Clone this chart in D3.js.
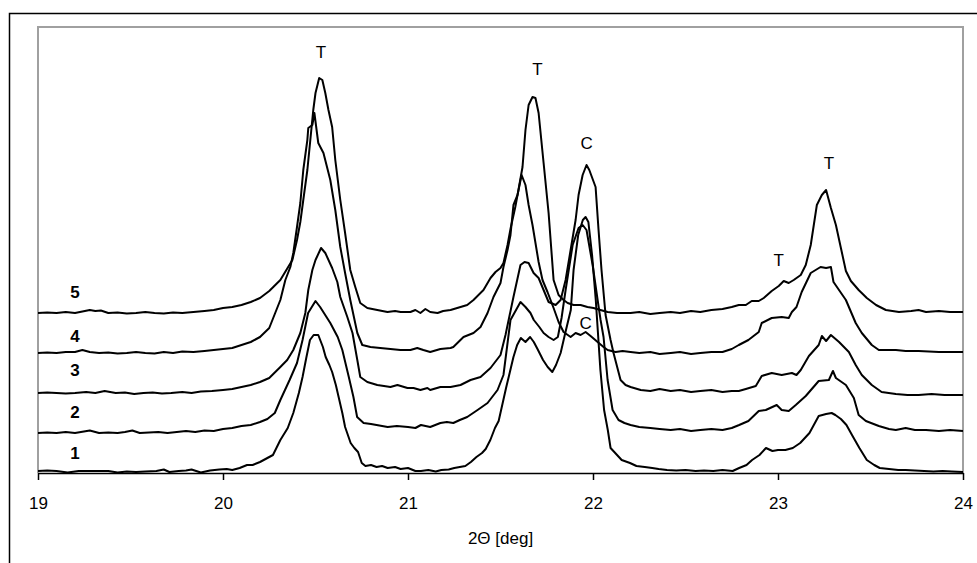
<!DOCTYPE html>
<html>
<head>
<meta charset="utf-8">
<script src="https://cdn.jsdelivr.net/npm/d3@7"></script>
<style>
  body { margin: 0; background: #fff; }
  svg text { font-family: "Liberation Sans", Arial, sans-serif; }
</style>
</head>
<body>
<svg id="chart" width="977" height="563"></svg>
<script>
'use strict';

// 2theta [deg], intensity (arbitrary units, patterns already shifted)
const pattern1 = [[19.00,2],[19.05,2.5],[19.10,2],[19.16,0.5],[19.22,2],[19.30,2],[19.38,2],[19.43,0.5],[19.48,1.5],[19.53,1],[19.58,1.5],[19.64,2],[19.68,3.5],[19.71,1],[19.76,2],[19.80,2.5],[19.83,3.5],[19.88,0.5],[19.93,2.5],[19.98,3.5],[20.02,4],[20.05,3],[20.09,5],[20.13,8],[20.16,8],[20.20,11],[20.24,15],[20.27,18],[20.31,33],[20.35,45],[20.38,60],[20.41,80],[20.43,96],[20.45,115],[20.47,133],[20.49,138],[20.515,138],[20.54,126],[20.555,116],[20.575,108],[20.59,101],[20.61,88],[20.625,76],[20.645,60],[20.66,46],[20.69,30],[20.71,25],[20.73,21],[20.75,10],[20.77,7],[20.80,8],[20.83,6],[20.86,7],[20.89,5],[20.93,6],[20.96,4],[21.00,5],[21.04,2],[21.07,2],[21.11,3],[21.15,1.5],[21.18,3],[21.22,3.5],[21.25,5],[21.28,6],[21.31,7],[21.34,11],[21.37,16],[21.40,20],[21.42,24],[21.445,33],[21.47,45],[21.49,52],[21.53,85],[21.57,116],[21.59,128],[21.61,135],[21.635,131],[21.66,136],[21.68,131],[21.70,124],[21.73,113],[21.755,106],[21.78,101],[21.80,108],[21.825,120],[21.85,140],[21.88,163],[21.895,203],[21.92,238],[21.945,253],[21.96,256],[21.975,251],[21.995,218],[22.015,173],[22.04,103],[22.06,63],[22.08,43],[22.095,25],[22.12,20],[22.155,13],[22.20,10],[22.235,7],[22.28,6],[22.32,5],[22.355,4],[22.40,3],[22.45,2.5],[22.50,3],[22.555,2],[22.60,2.5],[22.65,2],[22.70,3],[22.755,2],[22.79,5],[22.83,8],[22.86,13],[22.90,18],[22.935,25],[22.97,22],[23.00,23],[23.04,23],[23.08,25],[23.12,30],[23.17,40],[23.22,57],[23.26,59],[23.29,60],[23.31,58],[23.34,54],[23.37,48],[23.40,38],[23.44,25],[23.48,13],[23.52,8],[23.55,5],[23.60,4],[23.65,3],[23.69,3],[23.74,2.5],[23.79,2],[23.84,1.5],[23.89,2],[23.94,1.5],[24.00,1]];

const pattern2 = [[19.00,40],[19.05,40.5],[19.10,40],[19.15,41],[19.20,40],[19.28,42.5],[19.33,40],[19.38,40.5],[19.43,40],[19.47,41],[19.51,42.5],[19.55,40],[19.60,40.5],[19.65,41],[19.70,40],[19.75,41],[19.80,42],[19.85,41],[19.90,42.5],[19.95,42],[20.00,44],[20.05,45],[20.10,47],[20.15,48],[20.20,51],[20.24,54],[20.28,60],[20.31,73],[20.36,93],[20.40,110],[20.43,133],[20.46,160],[20.50,172],[20.525,166],[20.58,150],[20.62,136],[20.645,123],[20.68,96],[20.705,76],[20.725,56],[20.76,50],[20.80,49],[20.83,48],[20.86,47],[20.89,46],[20.94,47],[21.00,46],[21.04,45],[21.07,48],[21.12,46],[21.175,50],[21.21,51],[21.245,50],[21.28,53],[21.32,56],[21.376,63],[21.43,70],[21.484,83],[21.516,98],[21.554,153],[21.608,171],[21.635,166],[21.662,160],[21.68,153],[21.71,146],[21.733,140],[21.76,136],[21.787,133],[21.81,136],[21.83,155],[21.852,183],[21.89,228],[21.922,245],[21.944,248],[21.965,243],[21.998,208],[22.025,173],[22.041,153],[22.057,136],[22.079,93],[22.106,63],[22.138,53],[22.17,50],[22.203,48],[22.25,46],[22.31,45],[22.36,44],[22.42,43],[22.47,44],[22.53,42],[22.58,43],[22.64,44],[22.70,43],[22.75,45],[22.79,48],[22.84,52],[22.896,62],[22.934,63],[22.993,68],[23.02,63],[23.058,62],[23.096,68],[23.15,77],[23.22,92],[23.275,93],[23.297,102],[23.313,95],[23.367,88],[23.41,75],[23.436,58],[23.475,52],[23.545,47],[23.60,44],[23.637,43],[23.69,45],[23.74,43],[23.80,43],[23.87,42],[23.93,43],[24.00,42]];

const pattern3 = [[19.00,80],[19.05,80.5],[19.10,80],[19.15,79.5],[19.20,80],[19.26,81],[19.31,80],[19.36,82],[19.42,80],[19.47,80.5],[19.52,79],[19.57,80],[19.62,80.5],[19.67,79.5],[19.72,80],[19.78,81],[19.83,80],[19.88,81.5],[19.94,82],[20.00,83],[20.05,84],[20.10,86],[20.15,88],[20.20,91],[20.25,95],[20.31,106],[20.347,113],[20.38,123],[20.418,140],[20.445,160],[20.461,183],[20.483,203],[20.50,213],[20.53,225],[20.553,220],[20.59,205],[20.618,191],[20.634,176],[20.672,156],[20.70,140],[20.726,113],[20.742,96],[20.78,91],[20.834,88],[20.87,87],[20.905,86],[20.943,88],[20.997,85],[21.03,85],[21.067,83],[21.105,85],[21.12,83],[21.175,86],[21.23,86],[21.284,88],[21.338,93],[21.392,96],[21.446,105],[21.50,118],[21.527,138],[21.57,176],[21.608,208],[21.63,211],[21.652,210],[21.679,200],[21.695,197],[21.706,195],[21.733,183],[21.76,171],[21.798,168],[21.825,173],[21.852,193],[21.879,223],[21.906,253],[21.922,278],[21.944,298],[21.965,308],[21.98,303],[22.014,286],[22.03,243],[22.046,203],[22.068,158],[22.095,133],[22.111,120],[22.149,93],[22.176,88],[22.203,86],[22.258,83],[22.31,82],[22.36,84],[22.42,82],[22.47,83],[22.53,81],[22.58,82],[22.64,83],[22.70,81],[22.75,82],[22.788,82],[22.826,84],[22.88,87],[22.912,97],[22.966,100],[23.02,98],[23.075,100],[23.10,98],[23.123,103],[23.167,117],[23.22,128],[23.237,137],[23.26,132],[23.286,138],[23.33,131],[23.383,121],[23.42,108],[23.453,98],[23.507,88],[23.56,81],[23.637,79],[23.70,78],[23.76,78],[23.83,79],[23.90,78],[24.00,78]];

const pattern4 = [[19.00,120],[19.05,120.5],[19.10,120],[19.15,121],[19.20,121],[19.24,123],[19.28,121],[19.33,120],[19.38,120.5],[19.43,119.5],[19.48,120],[19.53,121],[19.58,120],[19.63,119.5],[19.68,121],[19.73,120],[19.78,121.5],[19.84,121],[19.90,122],[19.95,123],[20.00,124],[20.05,125],[20.10,128],[20.15,131],[20.20,136],[20.25,145],[20.31,173],[20.337,193],[20.364,206],[20.38,220],[20.40,246],[20.418,270],[20.434,303],[20.456,333],[20.461,345],[20.483,348],[20.494,360],[20.515,330],[20.543,320],[20.58,293],[20.607,263],[20.634,226],[20.66,200],[20.688,173],[20.726,140],[20.753,128],[20.797,126],[20.85,125],[20.905,124],[20.959,123],[21.013,123],[21.05,125],[21.083,123],[21.12,121],[21.175,124],[21.23,125],[21.245,126],[21.267,130],[21.30,136],[21.354,140],[21.392,146],[21.43,160],[21.462,176],[21.50,190],[21.516,206],[21.538,223],[21.554,238],[21.57,268],[21.592,278],[21.614,298],[21.635,288],[21.652,268],[21.673,248],[21.706,211],[21.727,193],[21.754,181],[21.787,165],[21.814,151],[21.841,141],[21.879,136],[21.906,140],[21.933,138],[21.96,141],[21.987,137],[22.025,131],[22.057,126],[22.079,123],[22.122,121],[22.16,122],[22.203,121],[22.25,120],[22.31,121],[22.36,119],[22.42,120],[22.47,121],[22.53,119],[22.58,120],[22.64,121],[22.70,121],[22.75,124],[22.788,128],[22.84,133],[22.896,141],[22.912,150],[22.966,155],[23.02,156],[23.058,155],[23.075,161],[23.10,166],[23.128,181],[23.177,200],[23.23,206],[23.26,205],[23.286,206],[23.30,191],[23.367,173],[23.42,150],[23.453,140],[23.507,128],[23.545,123],[23.637,123],[23.69,122],[23.76,122],[23.87,121],[23.978,121],[24.00,121]];

const pattern5 = [[19.00,160],[19.05,160.5],[19.10,160],[19.15,161],[19.20,160],[19.24,161.5],[19.28,163],[19.31,162],[19.34,162.5],[19.38,160],[19.43,160.5],[19.48,159.5],[19.53,160],[19.58,161],[19.63,160],[19.68,159.5],[19.73,160.5],[19.78,160],[19.84,161],[19.90,162],[19.95,163],[20.00,165],[20.05,166],[20.10,168],[20.15,171],[20.20,175],[20.25,182],[20.31,193],[20.375,213],[20.40,233],[20.418,251],[20.434,273],[20.456,303],[20.472,333],[20.488,363],[20.50,380],[20.52,395],[20.537,393],[20.553,380],[20.57,363],[20.59,346],[20.607,313],[20.634,273],[20.66,240],[20.688,203],[20.715,186],[20.742,170],[20.78,165],[20.834,163],[20.889,161],[20.93,162],[20.96,161],[21.013,161],[21.04,163],[21.067,160],[21.094,164],[21.12,161],[21.16,160],[21.19,162],[21.23,163],[21.284,166],[21.32,168],[21.354,173],[21.408,183],[21.446,195],[21.473,201],[21.50,205],[21.516,210],[21.538,228],[21.555,245],[21.58,266],[21.597,283],[21.619,306],[21.635,343],[21.652,368],[21.673,376],[21.689,375],[21.706,360],[21.733,310],[21.76,260],[21.787,193],[21.814,178],[21.841,173],[21.863,170],[21.895,168],[21.933,168],[21.97,166],[22.003,165],[22.04,163],[22.079,161],[22.13,160],[22.203,160],[22.25,161],[22.31,159],[22.36,160],[22.42,161],[22.47,160],[22.53,162],[22.58,161],[22.64,163],[22.70,164],[22.75,166],[22.788,168],[22.826,168],[22.858,172],[22.896,172],[22.923,175],[22.966,182],[23.004,187],[23.031,192],[23.058,190],[23.085,193],[23.123,198],[23.15,208],[23.177,228],[23.21,268],[23.237,278],[23.26,283],[23.286,265],[23.313,248],[23.34,225],[23.367,202],[23.394,192],[23.436,183],[23.48,175],[23.53,168],[23.583,163],[23.654,161],[23.72,162],[23.76,163],[23.80,161],[23.87,162],[23.93,161],[24.00,161]];

const patterns = [pattern1, pattern2, pattern3, pattern4, pattern5];
const patternNames = ["1", "2", "3", "4", "5"];
const patternNameAt = [[19.20, 20], [19.20, 61], [19.20, 103], [19.20, 137], [19.20, 181]];

const peakNames = ["T", "T", "C", "C", "T", "T"];
const peakNameAt = [[20.53, 421], [21.70, 404], [21.965, 330], [21.96, 150], [23.004, 213], [23.275, 310]];

const xTicks = [19, 20, 21, 22, 23, 24];
const xTitle = "2\u0398 [deg]";

const svg = d3.select("#chart");
const margin = { top: 27, right: 14, bottom: 90, left: 38 };
const width = 977, height = 563;

const x = d3.scaleLinear().domain([19, 24]).range([margin.left, width - margin.right]);
const y = d3.scaleLinear().domain([0, 446]).range([height - margin.bottom, margin.top]);

// outer chart frame (runs off the page right and bottom)
svg.append("rect")
  .attr("x", 9.5).attr("y", 13.5)
  .attr("width", 1000).attr("height", 600)
  .attr("fill", "none").attr("stroke", "#000").attr("stroke-width", 1.5);

// plot area border, grey on left, top, right
svg.append("path")
  .attr("d", `M${x(19)},${y(0)}V${y(446)}H${x(24)}V${y(0)}`)
  .attr("fill", "none").attr("stroke", "#a0a0a0").attr("stroke-width", 2);

const line = d3.line()
  .x(d => x(d[0]))
  .y(d => y(d[1]));

svg.append("g")
  .selectAll("path")
  .data(patterns)
  .join("path")
  .attr("d", line)
  .attr("fill", "none")
  .attr("stroke", "#000")
  .attr("stroke-width", 2)
  .attr("stroke-linejoin", "round");

// x axis
const xAxis = d3.axisBottom(x)
  .tickValues(xTicks)
  .tickFormat(d3.format("d"))
  .tickSize(7)
  .tickPadding(17)
  .tickSizeOuter(0);
const gx = svg.append("g")
  .attr("transform", `translate(0,${y(0)})`)
  .call(xAxis);
gx.select(".domain").attr("stroke", "#000").attr("stroke-width", 1.5);
gx.selectAll(".tick line").attr("stroke", "#000").attr("stroke-width", 1.5);
gx.selectAll(".tick text")
  .attr("fill", "#000")
  .style("font-size", "17px")
  .style("font-family", "'Liberation Sans', Arial, sans-serif");

svg.append("text")
  .attr("x", (x(19) + x(24)) / 2)
  .attr("y", 544)
  .attr("text-anchor", "middle")
  .style("font-size", "17px")
  .text(xTitle);

// pattern numbers
svg.append("g")
  .selectAll("text")
  .data(patternNames)
  .join("text")
  .attr("x", (d, i) => x(patternNameAt[i][0]))
  .attr("y", (d, i) => y(patternNameAt[i][1]))
  .attr("dy", "0.35em")
  .attr("text-anchor", "middle")
  .style("font-size", "17px")
  .style("font-weight", "bold")
  .text(d => d);

// peak labels
svg.append("g")
  .selectAll("text")
  .data(peakNames)
  .join("text")
  .attr("x", (d, i) => x(peakNameAt[i][0]))
  .attr("y", (d, i) => y(peakNameAt[i][1]))
  .attr("dy", "0.35em")
  .attr("text-anchor", "middle")
  .style("font-size", "17px")
  .text(d => d);
</script>
</body>
</html>
